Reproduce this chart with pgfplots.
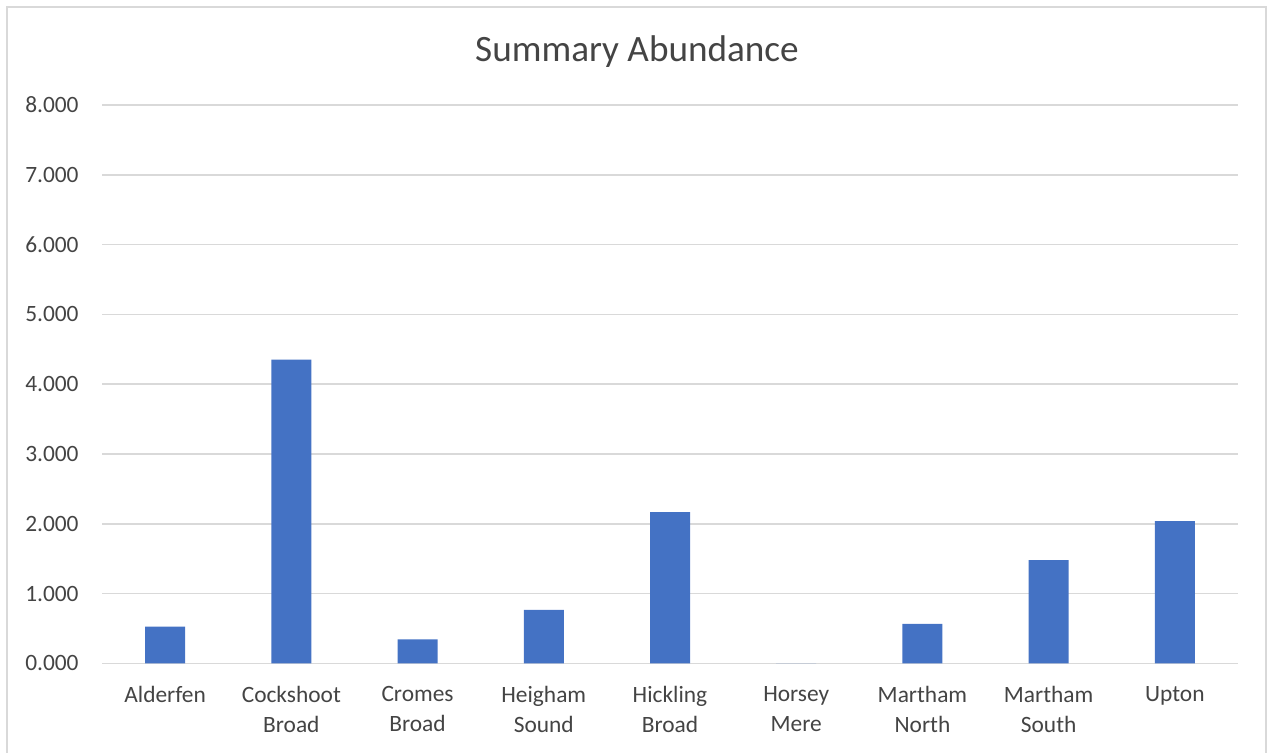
\documentclass[border=0pt]{standalone}
\usepackage{pgfplots}
\pgfplotsset{compat=1.18}
\usepackage{fontspec}
\setmainfont{Carlito}
\definecolor{barblue}{HTML}{4472C4}
\definecolor{gridgray}{HTML}{D9D9D9}
\definecolor{textgray}{HTML}{444444}
\begin{document}
\begin{tikzpicture}[x=1pt,y=1pt]
% chart area frame
\draw[gridgray, line width=0.75pt] (3.5,-6) -- (3.5,372.6) -- (633,372.6) -- (633,-6);
\begin{axis}[
  at={(51pt,44.35pt)}, anchor=south west,
  scale only axis, width=568pt, height=279.15pt,
  xmin=-0.5, xmax=8.5, ymin=0, ymax=8,
  ybar, bar width=20pt,
  xtick={0,...,8},
  xticklabels={Alderfen, Cockshoot\\Broad, Cromes\\Broad, Heigham\\Sound,
    Hickling\\Broad, Horsey\\Mere, Martham\\North, Martham\\South, Upton},
  ytick={0,...,8},
  yticklabels={0.000,1.000,2.000,3.000,4.000,5.000,6.000,7.000,8.000},
  axis line style={draw=none},
  major tick length=0pt,
  ymajorgrids,
  major grid style={gridgray, line width=0.8pt},
  tick label style={font=\fontsize{11.7}{15}\selectfont, text=textgray},
  xticklabel style={align=center, anchor=north, inner sep=0pt, yshift=-11.5pt},
  yticklabel style={anchor=east, inner sep=0pt, xshift=-11.5pt},
  clip=false,
]
\addplot[fill=barblue, draw=none] coordinates {
  (0,0.525) (1,4.352) (2,0.344) (3,0.765) (4,2.166)
  (5,0) (6,0.564) (7,1.478) (8,2.037)
};
\end{axis}
\node[anchor=base, font=\fontsize{18.6}{22}\selectfont, text=textgray, inner sep=0pt]
  at (318.5,345) {Summary Abundance};
\pgfresetboundingbox
\useasboundingbox (0,0) rectangle (634,376);
\end{tikzpicture}
\end{document}
